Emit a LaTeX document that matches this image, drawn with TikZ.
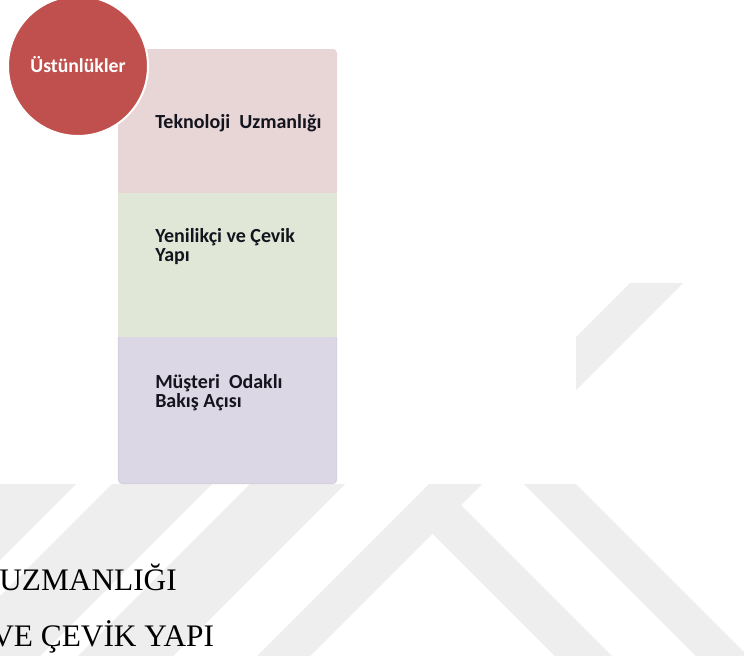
\documentclass[tikz,border=0pt]{standalone}
\usepackage{fontspec}
\setmainfont{Liberation Serif}
\newfontfamily\boxfont{Carlito}
\begin{document}
\begin{tikzpicture}[x=0.75pt,y=-0.75pt]
  \definecolor{wmgray}{RGB}{238,238,238}
  \definecolor{advred}{RGB}{192,80,77}
  \definecolor{pinkbox}{RGB}{232,213,213}
  \definecolor{greenbox}{RGB}{224,231,214}
  \definecolor{lilacbox}{RGB}{220,215,228}
  \definecolor{lilacedge}{RGB}{214,208,223}
  \definecolor{inktext}{RGB}{20,20,30}
  \tikzset{
    band/.style={fill=wmgray, draw=none},
    panel/.style={draw=none, rounded corners=3pt},
    paneltext/.style={anchor=base west, inner sep=0pt, font=\boxfont\bfseries\fontsize{15}{15}\selectfont,
      text=inktext, align=left},
    bodytext/.style={anchor=base west, inner sep=0pt, font=\fontsize{23.5}{23.5}\selectfont, text=black}
  }
  \useasboundingbox (0,0) rectangle (744,661);
  \fill[white] (0,0) rectangle (744,661);

  % faint diagonal bands in the background
  \begin{scope}
    \clip (0,283) rectangle (744,655);
    \fill[band] (630,283) -- (683,283) -- (266,700) -- (213,700) -- cycle;
    \fill[band] (461,505) -- (656,700) -- (599,700) -- (431,532) -- cycle;
    \fill[band] (510,470) -- (562,470) -- (792,700) -- (740,700) -- cycle;
    \fill[band] (-286,470) -- (90,470) -- (-140,700) -- (-516,700) -- cycle;
    \fill[band] (126,470) -- (226,470) -- (-4,700) -- (-104,700) -- cycle;
    \fill[band] (264,470) -- (359,470) -- (129,700) -- (34,700) -- cycle;
  \end{scope}
  \fill[white] (0,0) rectangle (576,484);

  % stacked panels
  \fill[panel, fill=pinkbox] (118,49) rectangle (337,196);
  \filldraw[panel, fill=lilacbox, draw=lilacedge, line width=1pt] (118.5,334) rectangle (336.5,483.5);
  \fill[fill=greenbox] (118,193) rectangle (337,337);

  \node[paneltext] (t1) at (155,128) {Teknoloji\ \ Uzmanlığı};
  \node[paneltext] (t2) at (155,261) {Yenilikçi ve Çevik\\[-1pt]Yapı};
  \node[paneltext] (t3) at (155,407) {Müşteri\ \ Odaklı\\[-1pt]Bakış Açısı};

  % heading disc
  \node[circle, fill=advred, draw=white, line width=1.5pt, minimum size=140*0.75pt, inner sep=0pt,
        text=white, font=\boxfont\bfseries\fontsize{14.8}{14.8}\selectfont] (head) at (78,66) {\raisebox{2pt}{Üstünlükler}};

  % running text
  \node[bodytext] (h1) at (-1,590) {UZMANLIĞI};
  \node[bodytext] (h2) at (-9,646) {VE ÇEVİK YAPI};
\end{tikzpicture}
\end{document}
